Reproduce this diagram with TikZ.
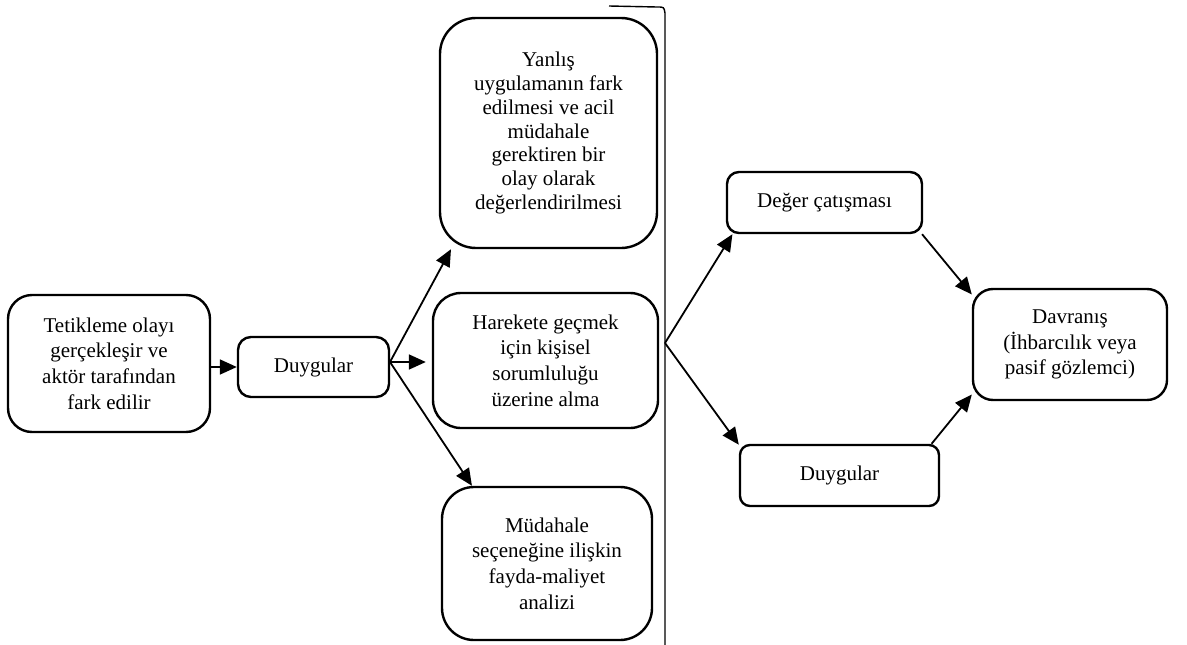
\documentclass[tikz,border=0pt]{standalone}
\usepackage{fontspec}
\setmainfont{Liberation Serif}
\usetikzlibrary{arrows.meta}
\tikzstyle{flow} = [x = 1pt, y = -1pt]
\tikzstyle{boxStyle} = [draw, line width = 2.4pt, align = center, inner sep = 0pt, font = \fontsize{21}{25.7}\selectfont]
\tikzstyle{tightText} = [font = \fontsize{21}{23.8}\selectfont]
\tikzstyle{arrowStyle} = [line width = 1.8pt, -{Triangle[length = 17pt, width = 15pt]}]
\tikzstyle{dividerStyle} = [line width = 1.4pt]
\newcommand{\flowBox}[8][]{\node [boxStyle, #1, rounded corners = #7, minimum width = #5, minimum height = #6] (#2) at (#3, #4) {#8};}

\begin{document}
\begin{tikzpicture}[flow]
        \useasboundingbox (0, 0) rectangle (1187, 645);
        \flowBox{trig}{109}{363.5}{202}{137}{24pt}{Tetikleme olayı\\gerçekleşir ve\\aktör tarafından\\fark edilir}
        \flowBox{duyg1}{313.5}{367}{151}{60}{13pt}{Duygular}
        \flowBox[tightText]{yanlis}{548.5}{133}{217}{230}{36pt}{Yanlış\\uygulamanın fark\\edilmesi ve acil\\müdahale\\gerektiren bir\\olay olarak\\değerlendirilmesi}
        \flowBox{harekete}{545.5}{360.5}{225}{135}{28pt}{Harekete geçmek\\için kişisel\\sorumluluğu\\üzerine alma}
        \flowBox{mudahale}{547}{563.5}{210}{153}{32pt}{Müdahale\\seçeneğine ilişkin\\fayda-maliyet\\analizi}
        \flowBox{deger}{824.5}{202.5}{195}{61}{12pt}{Değer çatışması}
        \flowBox{duyg2}{839.5}{475.5}{199}{61}{10pt}{Duygular}
        \flowBox{davranis}{1070}{344.5}{194}{111}{20pt}{Davranış\\(İhbarcılık veya\\pasif gözlemci)}

        % divider
        \draw [dividerStyle] (609, 6) -- (657, 7) .. controls (664, 7) .. (665, 13) -- (665, 645);
        \coordinate (branch) at (665, 343);
        \coordinate (split) at (390, 362);

        \draw [arrowStyle] (trig.east |- duyg1) -- (duyg1);
        \draw [arrowStyle] (split) -- (yanlis.230);
        \draw [arrowStyle, shorten > = 6pt] (split) -- (split -| harekete.west);
        \draw [arrowStyle] (split) -- (mudahale.134);
        \draw [arrowStyle] (branch) -- (deger.199);
        \draw [arrowStyle] (branch) -- (duyg2.163);
        \draw [arrowStyle] (deger.342) -- (davranis.153);
        \draw [arrowStyle] (duyg2.19) -- (davranis.207);
      \end{tikzpicture}
\end{document}
